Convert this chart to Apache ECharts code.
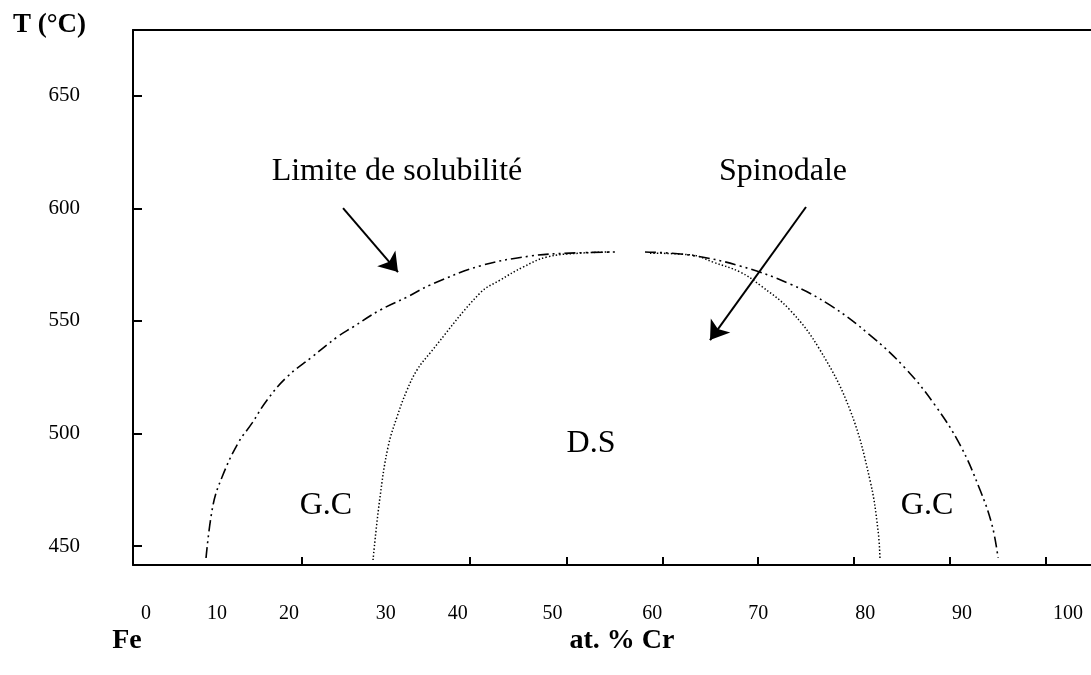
<!DOCTYPE html>
<html>
<head>
<meta charset="utf-8">
<style>
  html, body { margin: 0; padding: 0; background: #ffffff; }
  #chart { width: 1091px; height: 675px; }
</style>
<script src="https://cdn.jsdelivr.net/npm/echarts@6/dist/echarts.min.js"></script>
</head>
<body>
<div id="chart"></div>
<script>
// Fe–Cr phase diagram: miscibility gap (solubility limit) and spinodal, at.% Cr vs T (°C)

// Solubility limit, left and right branches: [at.% Cr, T °C]
const solubilityLeft = [
  [6.51, 444.7], [7.27, 468.2], [8.24, 480.6], [9.98, 495.7], [11.50, 504.6],
  [13.12, 514.8], [15.29, 525.1], [18.00, 534.0], [20.72, 542.8], [22.45, 547.3],
  [25.38, 554.8], [28.31, 560.6], [30.80, 565.9], [36.23, 574.4], [41.65, 578.8],
  [45.99, 580.1], [50.87, 580.6]
];
const solubilityRight = [
  [54.12, 580.6], [59.00, 579.2], [64.43, 574.4], [69.85, 566.4], [74.19, 557.0],
  [78.52, 543.7], [82.32, 529.1], [85.57, 512.6], [88.29, 494.9], [90.46, 474.9],
  [91.76, 459.3], [92.41, 444.7]
];

// Spinodal, left and right branches: [at.% Cr, T °C]
const spinodalLeft = [
  [24.62, 443.8], [25.38, 471.8], [26.25, 494.0], [27.22, 507.3], [28.31, 519.3],
  [29.39, 528.2], [30.80, 535.7], [36.23, 562.4], [38.39, 568.1], [40.89, 573.9],
  [43.49, 578.4], [47.07, 580.1], [50.30, 580.6]
];
const spinodalRight = [
  [54.66, 580.1], [59.33, 579.2], [61.50, 576.1], [64.43, 571.7], [66.59, 565.9],
  [69.85, 554.8], [73.10, 537.1], [76.36, 510.4], [78.52, 479.3], [79.39, 457.1],
  [79.61, 443.8]
];

// Axis tick labels
const crTickLabels = ['0', '10', '20', '30', '40', '50', '60', '70', '80', '90', '100'];
const tempTickLabels = [450, 500, 550, 600, 650];

// Region names and curve captions: [at.% Cr, T °C, text]
const regionNames = [
  [48.26, 495.7, 'D.S'],
  [19.52, 468.2, 'G.C'],
  [84.71, 468.2, 'G.C']
];
const curveCaptions = [
  [27.22, 616.1, 'Limite de solubilité'],
  [69.09, 616.1, 'Spinodale']
];
// Pointer arrows from captions to curves: [[fromCr, fromT], [toCr, toT]]
const captionArrows = [
  [[21.37, 600.1], [27.33, 571.7]],
  [[71.58, 600.6], [61.17, 541.5]]
];

// Layout: where the composition labels and tick marks sit along the axis
const crLabelAnchors = [0, 7.7, 15.5, 26.0, 33.8, 44.1, 54.9, 66.4, 78.0, 88.5, 100];
const crTickAnchors = [16.9, 35.1, 45.6, 56.0, 66.4, 76.8, 87.2, 97.6];

const SERIF = '"Liberation Serif", "Times New Roman", serif';

const chart = echarts.init(document.getElementById('chart'), null, { renderer: 'canvas' });

function labelFor(value) {
  let best = 0;
  for (let i = 1; i < crLabelAnchors.length; i++) {
    if (Math.abs(crLabelAnchors[i] - value) < Math.abs(crLabelAnchors[best] - value)) best = i;
  }
  return crTickLabels[best];
}

const solubilityStyle = { color: '#000', width: 1.6, type: [11, 4, 2, 4, 2, 4] };
const spinodalStyle = { color: '#000', width: 1.5, type: [1.4, 2.1] };

function curve(name, data, style) {
  return {
    name, type: 'line', data,
    smooth: 0.4,
    showSymbol: false, symbol: 'none',
    lineStyle: style,
    silent: true,
    z: 3
  };
}

const CR_MIN = -1.41, CR_MAX = 102.49;

const option = {
  animation: false,
  backgroundColor: '#ffffff',
  grid: { left: 133, top: 30, right: 0, bottom: 110, show: false },
  xAxis: [
    {
      type: 'value',
      position: 'bottom',
      min: CR_MIN, max: CR_MAX,
      axisLine: { show: true, onZero: false, lineStyle: { color: '#000', width: 2 } },
      splitLine: { show: false },
      axisTick: {
        show: true, inside: true, length: 8,
        customValues: crTickAnchors,
        lineStyle: { color: '#000', width: 2 }
      },
      axisLabel: {
        show: true, margin: 39,
        customValues: crLabelAnchors,
        formatter: (v) => labelFor(v),
        fontFamily: SERIF, fontSize: 20, color: '#000'
      }
    },
    {
      // plain frame line along the top of the plot
      type: 'value',
      position: 'top',
      min: CR_MIN, max: CR_MAX,
      axisLine: { show: true, onZero: false, lineStyle: { color: '#000', width: 2 } },
      axisTick: { show: false },
      axisLabel: { show: false },
      splitLine: { show: false }
    }
  ],
  yAxis: {
    type: 'value',
    min: 441.6, max: 679.2,
    axisLine: { show: true, onZero: false, lineStyle: { color: '#000', width: 2 } },
    splitLine: { show: false },
    axisTick: {
      show: true, inside: true, length: 9,
      customValues: tempTickLabels,
      lineStyle: { color: '#000', width: 2 }
    },
    axisLabel: {
      show: true, margin: 53,
      customValues: tempTickLabels,
      fontFamily: SERIF, fontSize: 21, color: '#000'
    }
  },
  graphic: [
    {
      type: 'text', left: 13, top: 12,
      style: { text: 'T (°C)', font: 'bold 27px ' + SERIF, fill: '#000' }
    },
    {
      type: 'text', x: 127, y: 641,
      style: { text: 'Fe', font: 'bold 28px ' + SERIF, fill: '#000', align: 'center', verticalAlign: 'middle' }
    },
    {
      type: 'text', x: 622, y: 641,
      style: { text: 'at. % Cr', font: 'bold 28px ' + SERIF, fill: '#000', align: 'center', verticalAlign: 'middle' }
    }
  ],
  series: [
    curve('Limite de solubilité', solubilityLeft, solubilityStyle),
    curve('Limite de solubilité ', solubilityRight, solubilityStyle),
    curve('Spinodale', spinodalLeft, spinodalStyle),
    curve('Spinodale ', spinodalRight, spinodalStyle),
    {
      name: 'annotations',
      type: 'scatter',
      symbolSize: 0,
      silent: true,
      itemStyle: { opacity: 1, color: '#000' },
      data: regionNames.concat(curveCaptions).map(d => ({ name: d[2], value: [d[0], d[1]] })),
      label: {
        show: true, position: 'inside', formatter: '{b}',
        fontFamily: SERIF, fontSize: 32, color: '#000', opacity: 1
      },
      markLine: {
        silent: true,
        symbol: ['none', 'arrow'],
        symbolSize: 18,
        label: { show: false },
        lineStyle: { color: '#000', width: 2, type: 'solid', opacity: 1 },
        itemStyle: { color: '#000' },
        data: captionArrows.map(a => [{ coord: a[0] }, { coord: a[1] }])
      },
      z: 4
    }
  ]
};

chart.setOption(option);
</script>
</body>
</html>
